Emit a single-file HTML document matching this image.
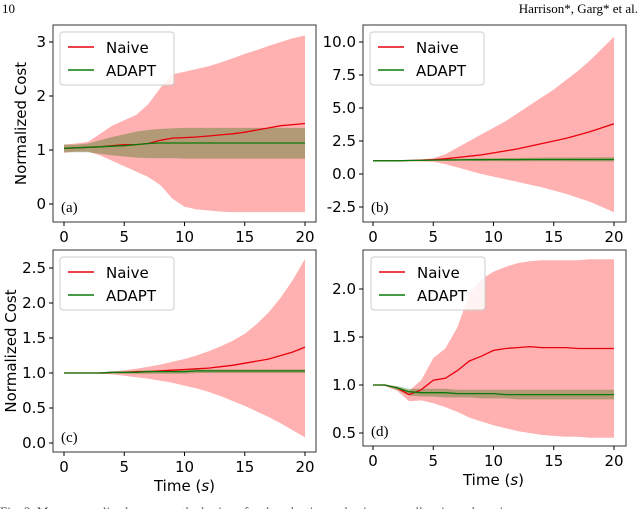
<!DOCTYPE html>
<html><head><meta charset="utf-8"><style>
body{margin:0;background:#fff;width:640px;height:509px;overflow:hidden}
svg text{font-family:"DejaVu Sans","Liberation Sans",sans-serif}
</style></head><body>
<svg id="fig" width="640" height="509" xmlns="http://www.w3.org/2000/svg">
<text x="2" y="13" font-size="13" style="font-family:'Liberation Serif',serif">10</text>
<text x="638" y="13" font-size="13" text-anchor="end" style="font-family:'Liberation Serif',serif">Harrison*, Garg* et al.</text>
<text x="0" y="516" font-size="13" fill="#444" style="font-family:'Liberation Serif',serif">Fig. 3. Mean normalized cost over the horizon for the adaptive and naive controllers in each setting.</text>
</svg>
<script>
const times=[0,1,2,3,4,5,6,7,8,9,10,11,12,13,14,15,16,17,18,19,20];
const xTicks=[0,5,10,15,20];
// (a)
const aNaiveMean=[1.03,1.04,1.05,1.06,1.08,1.1,1.1,1.12,1.18,1.22,1.23,1.24,1.26,1.28,1.3,1.33,1.37,1.41,1.45,1.47,1.49];
const aNaiveUp=[1.1,1.12,1.15,1.3,1.45,1.55,1.65,1.85,2.15,2.4,2.45,2.5,2.55,2.62,2.7,2.78,2.85,2.93,3.0,3.07,3.12];
const aNaiveLo=[0.95,0.97,0.97,0.9,0.8,0.7,0.6,0.5,0.35,0.1,-0.05,-0.1,-0.12,-0.14,-0.15,-0.15,-0.15,-0.15,-0.15,-0.15,-0.15];
const aAdaptMean=[1.03,1.04,1.05,1.06,1.07,1.08,1.1,1.12,1.13,1.13,1.13,1.13,1.13,1.13,1.13,1.13,1.13,1.13,1.13,1.13,1.13];
const aAdaptUp=[1.1,1.1,1.12,1.18,1.24,1.29,1.34,1.37,1.39,1.4,1.41,1.41,1.41,1.41,1.41,1.41,1.41,1.41,1.41,1.41,1.41];
const aAdaptLo=[0.96,0.96,0.96,0.93,0.9,0.88,0.86,0.85,0.85,0.85,0.84,0.84,0.84,0.84,0.84,0.84,0.84,0.84,0.84,0.84,0.84];
const aYTicks=[0,1,2,3];
// (b)
const bNaiveMean=[1,1,1,1.02,1.05,1.08,1.15,1.25,1.35,1.45,1.6,1.75,1.9,2.1,2.3,2.5,2.7,2.95,3.2,3.5,3.8];
const bNaiveUp=[1,1,1.02,1.05,1.1,1.2,1.5,2,2.5,3,3.5,4,4.6,5.2,5.8,6.4,7.1,7.8,8.6,9.5,10.4];
const bNaiveLo=[1,1,0.98,0.97,0.95,0.92,0.75,0.5,0.25,0,-0.2,-0.4,-0.6,-0.8,-1.0,-1.25,-1.5,-1.8,-2.1,-2.5,-2.9];
const bAdaptMean=[1,1,1,1.02,1.03,1.05,1.06,1.07,1.08,1.08,1.09,1.09,1.09,1.1,1.1,1.1,1.1,1.1,1.1,1.1,1.1];
const bAdaptUp=[1,1,1,1.04,1.06,1.09,1.12,1.15,1.17,1.19,1.2,1.21,1.22,1.23,1.24,1.25,1.25,1.26,1.26,1.27,1.27];
const bAdaptLo=[1,1,1,1.0,1.0,1.01,1.0,0.99,0.99,0.98,0.98,0.97,0.97,0.97,0.96,0.96,0.96,0.95,0.95,0.95,0.95];
const bYTicks=[-2.5,0,2.5,5,7.5,10];
// (c)
const cNaiveMean=[1,1,1,1.0,1.01,1.01,1.02,1.02,1.03,1.04,1.05,1.06,1.07,1.09,1.11,1.14,1.17,1.2,1.25,1.3,1.37];
const cNaiveUp=[1,1,1,1.01,1.02,1.04,1.06,1.09,1.12,1.16,1.2,1.25,1.31,1.38,1.46,1.56,1.7,1.87,2.08,2.33,2.63];
const cNaiveLo=[1,1,1,0.99,0.98,0.96,0.94,0.92,0.89,0.86,0.82,0.78,0.73,0.67,0.6,0.53,0.45,0.37,0.28,0.18,0.08];
const cAdaptMean=[1,1,1,1.0,1.01,1.01,1.01,1.02,1.02,1.02,1.02,1.03,1.03,1.03,1.03,1.03,1.03,1.03,1.03,1.03,1.03];
const cAdaptUp=[1,1,1,1.01,1.02,1.02,1.03,1.04,1.04,1.05,1.05,1.05,1.05,1.05,1.05,1.05,1.05,1.05,1.05,1.05,1.05];
const cAdaptLo=[1,1,1,0.99,0.99,0.99,0.99,0.99,0.99,0.99,0.99,1.0,1.0,1.0,1.0,1.0,1.0,1.0,1.0,1.0,1.0];
const cYTicks=[0,0.5,1,1.5,2,2.5];
// (d)
const dNaiveMean=[1,1,0.97,0.9,0.95,1.05,1.07,1.15,1.25,1.3,1.36,1.38,1.39,1.4,1.39,1.39,1.39,1.38,1.38,1.38,1.38];
const dNaiveUp=[1,1,0.98,0.94,1.05,1.28,1.38,1.6,1.95,2.1,2.18,2.23,2.27,2.29,2.3,2.3,2.3,2.3,2.31,2.31,2.31];
const dNaiveLo=[1,0.99,0.94,0.83,0.84,0.81,0.77,0.72,0.66,0.62,0.58,0.55,0.52,0.5,0.48,0.47,0.46,0.46,0.45,0.45,0.45];
const dAdaptMean=[1,1,0.97,0.93,0.92,0.92,0.92,0.91,0.91,0.91,0.91,0.9,0.9,0.9,0.9,0.9,0.9,0.9,0.9,0.9,0.9];
const dAdaptUp=[1,1,0.99,0.96,0.96,0.96,0.96,0.95,0.95,0.95,0.95,0.95,0.95,0.95,0.95,0.95,0.95,0.95,0.95,0.95,0.95];
const dAdaptLo=[1,0.99,0.95,0.89,0.88,0.88,0.87,0.87,0.87,0.86,0.86,0.86,0.85,0.85,0.85,0.85,0.85,0.85,0.85,0.85,0.85];
const dYTicks=[0.5,1,1.5,2];

const svg=document.getElementById('fig');
const NS='http://www.w3.org/2000/svg';
function mk(tag,attrs,parent){const e=document.createElementNS(NS,tag);for(const k in attrs)e.setAttribute(k,attrs[k]);(parent||svg).appendChild(e);return e;}

const panels=[
 {id:'a',box:[53,25,316,222],x0:64,x1:305,yv:[0,3],yp:[204,42],ticks:aYTicks,fmt:v=>String(v),nm:aNaiveMean,nu:aNaiveUp,nl:aNaiveLo,am:aAdaptMean,au:aAdaptUp,al:aAdaptLo,ylab:27,xlab:false,leg:[60,32]},
 {id:'b',box:[363,25,626,222],x0:373,x1:614,yv:[-2.5,10],yp:[207,42],ticks:bYTicks,fmt:v=>v.toFixed(1),nm:bNaiveMean,nu:bNaiveUp,nl:bNaiveLo,am:bAdaptMean,au:bAdaptUp,al:bAdaptLo,ylab:0,xlab:false,leg:[370,32]},
 {id:'c',box:[53,250,316,452],x0:64,x1:305,yv:[0,2.5],yp:[443,268],ticks:cYTicks,fmt:v=>v.toFixed(1),nm:cNaiveMean,nu:cNaiveUp,nl:cNaiveLo,am:cAdaptMean,au:cAdaptUp,al:cAdaptLo,ylab:37,xlab:true,leg:[60,257]},
 {id:'d',box:[363,250,626,446],x0:373,x1:614,yv:[0.5,2],yp:[433,289],ticks:dYTicks,fmt:v=>v.toFixed(1),nm:dNaiveMean,nu:dNaiveUp,nl:dNaiveLo,am:dAdaptMean,au:dAdaptUp,al:dAdaptLo,ylab:0,xlab:true,leg:[371,257]}
];
panels.forEach(p=>{
 const g=mk('g',{});
 
 
 const X=t=>p.x0+(t-times[0])*(p.x1-p.x0)/(times[times.length-1]-times[0]);
 const Y=v=>p.yp[0]+(v-p.yv[0])*(p.yp[1]-p.yp[0])/(p.yv[1]-p.yv[0]);
 const line=a=>a.map((v,i)=>(i?'L':'M')+X(times[i]).toFixed(1)+','+Y(v).toFixed(1)).join('');
 const band=(u,l)=>line(u)+l.slice().reverse().map((v,j)=>{const i=l.length-1-j;return 'L'+X(times[i]).toFixed(1)+','+Y(v).toFixed(1);}).join('')+'Z';
 const [bx0,by0,bx1,by1]=p.box;
 const cp=mk('clipPath',{id:'cp'+p.id},g);mk('rect',{x:bx0,y:by0,width:bx1-bx0,height:by1-by0},cp);
 const pg=mk('g',{'clip-path':'url(#cp'+p.id+')'},g);
 const nb=mk('path',{d:band(p.nu,p.nl),fill:'#ffb0b0'},pg);
 
 
 const ab=mk('path',{d:band(p.au,p.al),fill:'rgb(20,110,0)','fill-opacity':'0.32'},pg);
 
 
 const nl=mk('path',{d:line(p.nm),fill:'none',stroke:'#e8000b','stroke-width':1.3},pg);
 
 
 const al=mk('path',{d:line(p.am),fill:'none',stroke:'#0a7a0a','stroke-width':1.3},pg);
 
 
 const fr=mk('rect',{x:bx0,y:by0,width:bx1-bx0,height:by1-by0,fill:'none',stroke:'#333','stroke-width':1},g);
 
 
 xTicks.forEach(t=>{
  mk('line',{x1:X(t),x2:X(t),y1:by1,y2:by1+4,stroke:'#000'},g);
  const tx=mk('text',{x:X(t),y:by1+20,'font-size':15,'text-anchor':'middle'},g);tx.textContent=t;
  
  
 });
 p.ticks.forEach(v=>{
  mk('line',{x1:bx0-4,x2:bx0,y1:Y(v),y2:Y(v),stroke:'#000'},g);
  const tx=mk('text',{x:bx0-7,y:Y(v)+5,'font-size':15,'text-anchor':'end'},g);tx.textContent=p.fmt(v);
  
  
 });
 const pl=mk('text',{x:bx0+8,y:by1-10,'font-size':15,style:"font-family:'Liberation Serif',serif"},g);pl.textContent='('+p.id+')';
 
 
 if(p.ylab){const yl=mk('text',{transform:`translate(${bx0-p.ylab},${(by0+by1)/2}) rotate(-90)`,'font-size':15,'text-anchor':'middle'},g);yl.textContent='Normalized Cost';
  
  }
 if(p.xlab){const xl=mk('text',{x:(p.x0+p.x1)/2,y:by1+39,'font-size':15,'text-anchor':'middle'},g);xl.innerHTML='Time (<tspan font-style="italic">s</tspan>)';
  
  }
 const [lx,ly]=p.leg;
 const lg=mk('g',{},g);
 
 
 mk('rect',{x:lx,y:ly,width:114,height:53,rx:3,fill:'#fff','fill-opacity':0.85,stroke:'#ccc'},lg);
 mk('line',{x1:lx+8,x2:lx+34,y1:ly+15,y2:ly+15,stroke:'#e8000b','stroke-width':1.5},lg);
 mk('line',{x1:lx+8,x2:lx+34,y1:ly+38,y2:ly+38,stroke:'#0a7a0a','stroke-width':1.5},lg);
 const t1=mk('text',{x:lx+46,y:ly+21,'font-size':15},lg);t1.textContent='Naive';
 
 
 const t2=mk('text',{x:lx+46,y:ly+44,'font-size':15},lg);t2.textContent='ADAPT';
 
 
});
</script>
</body></html>
